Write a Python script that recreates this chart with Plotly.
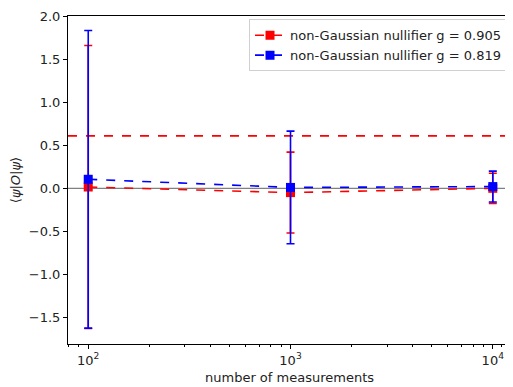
import plotly.graph_objects as go

n_meas = [100, 1000, 10000]
red_mean = [0.015, -0.05, 0.0]
red_err = [1.645, 0.47, 0.175]
blue_mean = [0.105, 0.01, 0.02]
blue_err = [1.73, 0.655, 0.18]
red_label = "non-Gaussian nullifier g = 0.905"
blue_label = "non-Gaussian nullifier g = 0.819"
threshold = 0.61
baseline = 0.0

y_ticks = [-1.5, -1.0, -0.5, 0.0, 0.5, 1.0, 1.5, 2.0]
y_ticktext = ["\u22121.5", "\u22121.0", "\u22120.5", "0.0", "0.5", "1.0", "1.5", "2.0"]
x_ticks = [100, 1000, 10000]
x_ticktext = ["10<sup>2</sup>", "10<sup>3</sup>", "10<sup>4</sup>"]
x_minor = [80, 90] + [k * 100 for k in range(2, 10)] + [k * 1000 for k in range(2, 10)] + [11000, 12000]

FONT = "DejaVu Sans"
FS = 13

fig = go.Figure()

def add_series(y, err, color, name):
    fig.add_trace(go.Scatter(
        x=n_meas, y=y, name=name, mode="lines+markers",
        line=dict(color=color, width=1.6, dash="dash"),
        marker=dict(symbol="square", size=9, color=color),
        error_y=dict(type="data", array=err, visible=True, color=color,
                     thickness=1.6, width=4),
    ))

add_series(red_mean, red_err, "red", red_label)
add_series(blue_mean, blue_err, "blue", blue_label)

fig.add_hline(y=threshold, line=dict(color="red", width=1.6, dash="dash"), layer="below")
fig.add_hline(y=baseline, line=dict(color="gray", width=1.2), layer="below")

# page body has an 8px default margin: figure is sized so it fills the 513x387 window
fig.update_layout(
    width=505, height=379,
    margin=dict(l=60, r=1, t=4, b=43),
    paper_bgcolor="white", plot_bgcolor="white",
    font=dict(family=FONT, size=FS, color="#222"),
    showlegend=True,
    legend=dict(x=0.991, y=0.99, xanchor="right", yanchor="top",
                bgcolor="rgba(255,255,255,0.8)", bordercolor="#d0d0d0", borderwidth=1,
                font=dict(size=FS, family=FONT), tracegroupgap=0,
                itemwidth=30),
)

fig.update_xaxes(
    type="log", range=[1.9, 4.09],
    tickmode="array", tickvals=x_ticks, ticktext=x_ticktext,
    ticks="outside", ticklen=4, tickwidth=1, tickcolor="black",
    minor=dict(tickmode="array", tickvals=x_minor, ticks="outside", ticklen=2,
               tickcolor="black", showgrid=False),
    showgrid=False, zeroline=False,
    showline=True, linecolor="black", linewidth=1, mirror=True,
    title=dict(text="number of measurements", standoff=6, font=dict(size=FS)),
)

fig.update_yaxes(
    range=[-1.81, 2.003],
    tickmode="array", tickvals=y_ticks, ticktext=y_ticktext,
    ticks="outside", ticklen=4, tickwidth=1, tickcolor="black",
    ticklabeloverflow="allow",
    showgrid=False, zeroline=False,
    showline=True, linecolor="black", linewidth=1, mirror=True,
    title=dict(text="\u27e8<i>\u03c8</i>|<i>O</i>|<i>\u03c8</i>\u27e9", standoff=6, font=dict(size=FS)),
)

fig.write_html("out.html")
